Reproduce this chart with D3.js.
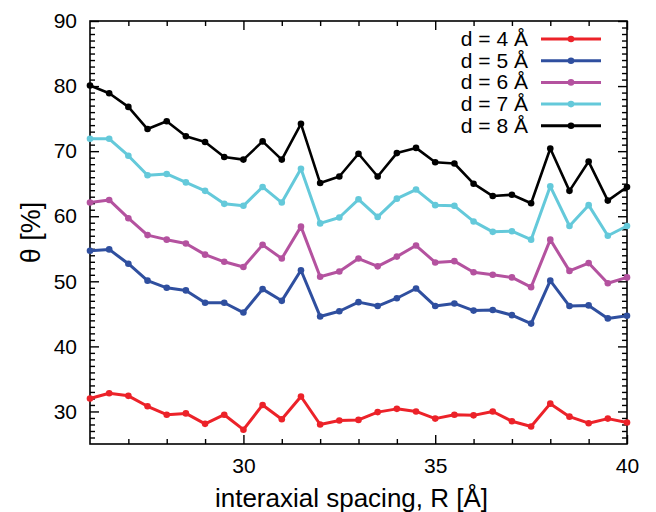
<!DOCTYPE html>
<html>
<head>
<meta charset="utf-8">
<script src="https://cdn.jsdelivr.net/npm/d3@7"></script>
<style>
  body { margin: 0; background: #fff; }
  text { font-family: "Liberation Sans", Arial, sans-serif; fill: #000; }
</style>
</head>
<body>
<div id="chart"></div>
<script>
"use strict";

const spacing = [26, 26.5, 27, 27.5, 28, 28.5, 29, 29.5, 30, 30.5, 31, 31.5, 32, 32.5, 33,
  33.5, 34, 34.5, 35, 35.5, 36, 36.5, 37, 37.5, 38, 38.5, 39, 39.5, 40];

const d4 = [32.0, 32.8, 32.4, 30.8, 29.5, 29.7, 28.1, 29.5, 27.2, 31.0, 28.8, 32.3, 28.0, 28.6, 28.7,
  29.9, 30.4, 30.0, 28.9, 29.5, 29.4, 30.0, 28.5, 27.7, 31.2, 29.2, 28.2, 28.9, 28.3];
const d5 = [54.7, 54.9, 52.7, 50.1, 49.0, 48.6, 46.7, 46.7, 45.2, 48.8, 47.0, 51.7, 44.6, 45.4, 46.8,
  46.2, 47.4, 48.9, 46.2, 46.6, 45.5, 45.6, 44.8, 43.5, 50.1, 46.2, 46.3, 44.3, 44.7];
const d6 = [62.1, 62.5, 59.7, 57.1, 56.4, 55.8, 54.1, 53.0, 52.2, 55.6, 53.5, 58.4, 50.7, 51.5, 53.5,
  52.3, 53.8, 55.5, 52.9, 53.1, 51.4, 51.0, 50.6, 49.1, 56.4, 51.6, 52.8, 49.7, 50.6];
const d7 = [71.9, 71.9, 69.3, 66.3, 66.5, 65.2, 63.9, 61.9, 61.6, 64.5, 62.1, 67.3, 58.9, 59.8, 62.6,
  59.9, 62.7, 64.1, 61.7, 61.6, 59.2, 57.6, 57.7, 56.4, 64.6, 58.5, 61.7, 57.0, 58.5];
const d8 = [80.1, 78.9, 76.8, 73.4, 74.6, 72.3, 71.4, 69.1, 68.7, 71.5, 68.7, 74.2, 65.1, 66.1, 69.6,
  66.1, 69.7, 70.5, 68.3, 68.1, 65.0, 63.1, 63.3, 62.0, 70.4, 63.9, 68.4, 62.4, 64.5];

const seriesNames = ["d = 4 Å", "d = 5 Å", "d = 6 Å", "d = 7 Å", "d = 8 Å"];
const seriesValues = [d4, d5, d6, d7, d8];
const seriesColors = ["#ec2229", "#2f4f9f", "#b4529f", "#64c9da", "#000000"];

const xMajor = [30, 35, 40];
const yMajor = [30, 40, 50, 60, 70, 80, 90];

const width = 656, height = 512;
const margin = { top: 21, right: 29, bottom: 68, left: 90 };
const iw = width - margin.left - margin.right;
const ih = height - margin.top - margin.bottom;

const svg = d3.select("#chart").append("svg")
  .attr("width", width)
  .attr("height", height);

const g = svg.append("g")
  .attr("transform", `translate(${margin.left},${margin.top})`);

const x = d3.scaleLinear().domain([26, 40]).range([0, iw]);
const y = d3.scaleLinear().domain([25, 90]).range([ih, 0]);

const xMinor = d3.range(27, 40, 1).filter(v => !xMajor.includes(v));
const yMinor = d3.range(26, 90, 1).filter(v => !yMajor.includes(v));

function styleAxis(sel) {
  sel.select(".domain").remove();
  sel.selectAll("line").attr("stroke", "#000").attr("stroke-width", 1.4);
}

// bottom
g.append("g").attr("transform", `translate(0,${ih})`)
  .call(d3.axisBottom(x).tickValues(xMajor).tickSizeInner(-9).tickSizeOuter(0).tickPadding(14))
  .call(styleAxis)
  .selectAll("text").attr("font-size", 21);
g.append("g").attr("transform", `translate(0,${ih})`)
  .call(d3.axisBottom(x).tickValues(xMinor).tickSizeInner(-5).tickSizeOuter(0).tickFormat(""))
  .call(styleAxis);
// top
g.append("g")
  .call(d3.axisTop(x).tickValues(xMajor).tickSizeInner(-9).tickSizeOuter(0).tickFormat(""))
  .call(styleAxis);
g.append("g")
  .call(d3.axisTop(x).tickValues(xMinor).tickSizeInner(-5).tickSizeOuter(0).tickFormat(""))
  .call(styleAxis);
// left
g.append("g")
  .call(d3.axisLeft(y).tickValues(yMajor).tickSizeInner(-9).tickSizeOuter(0).tickPadding(13))
  .call(styleAxis)
  .selectAll("text").attr("font-size", 21);
g.append("g")
  .call(d3.axisLeft(y).tickValues(yMinor).tickSizeInner(-5).tickSizeOuter(0).tickFormat(""))
  .call(styleAxis);
// right
g.append("g").attr("transform", `translate(${iw},0)`)
  .call(d3.axisRight(y).tickValues(yMajor).tickSizeInner(-9).tickSizeOuter(0).tickFormat(""))
  .call(styleAxis);
g.append("g").attr("transform", `translate(${iw},0)`)
  .call(d3.axisRight(y).tickValues(yMinor).tickSizeInner(-5).tickSizeOuter(0).tickFormat(""))
  .call(styleAxis);

g.selectAll(".tick text").attr("fill", "#000").style("font-family", "'Liberation Sans', Arial, sans-serif");

// frame
g.append("rect")
  .attr("width", iw).attr("height", ih)
  .attr("fill", "none").attr("stroke", "#000").attr("stroke-width", 1.6);

const line = d3.line()
  .x((d, i) => x(spacing[i]))
  .y(d => y(d));

seriesValues.forEach((vals, k) => {
  const s = g.append("g");
  s.append("path")
    .datum(vals)
    .attr("fill", "none")
    .attr("stroke", seriesColors[k])
    .attr("stroke-width", k === 4 ? 2.6 : 3)
    .attr("stroke-linejoin", "round")
    .attr("d", line);
  s.selectAll("circle")
    .data(vals)
    .enter()
    .append("circle")
    .attr("cx", (d, i) => x(spacing[i]))
    .attr("cy", d => y(d))
    .attr("r", 3.3)
    .attr("fill", seriesColors[k]);
});

// legend
const legend = svg.append("g");
seriesNames.forEach((name, k) => {
  const ly = 39 + k * 21.7;
  legend.append("text")
    .attr("x", 528).attr("y", ly + 7)
    .attr("text-anchor", "end")
    .attr("font-size", 21)
    .text(name);
  legend.append("line")
    .attr("x1", 541).attr("x2", 601)
    .attr("y1", ly).attr("y2", ly)
    .attr("stroke", seriesColors[k])
    .attr("stroke-width", 3);
  legend.append("circle")
    .attr("cx", 571).attr("cy", ly).attr("r", 3.3)
    .attr("fill", seriesColors[k]);
});

// axis titles
svg.append("text")
  .attr("x", margin.left + iw / 2 - 7)
  .attr("y", 507)
  .attr("text-anchor", "middle")
  .attr("font-size", 26)
  .text("interaxial spacing, R [Å]");

svg.append("text")
  .attr("transform", `translate(40,${margin.top + ih / 2}) rotate(-90)`)
  .attr("text-anchor", "middle")
  .attr("font-size", 27)
  .text("θ [%]");
</script>
</body>
</html>
